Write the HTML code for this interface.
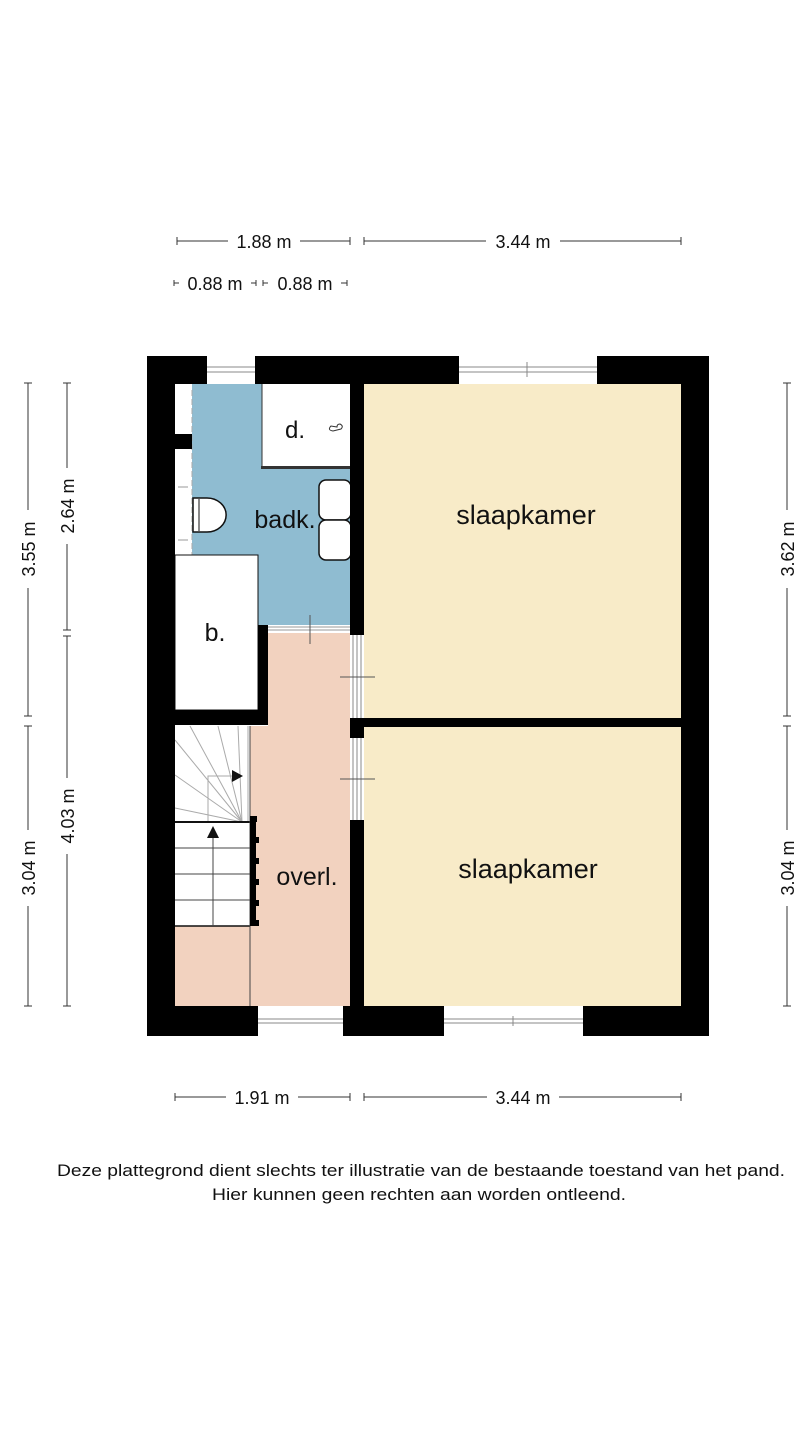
<!DOCTYPE html>
<html><head><meta charset="utf-8"><style>
html,body{margin:0;padding:0;background:#fff;}
svg{display:block;}
text{font-family:"Liberation Sans",sans-serif;fill:#111;}
</style></head><body>
<svg width="810" height="1440" viewBox="0 0 810 1440" xmlns="http://www.w3.org/2000/svg">
<rect x="364" y="384" width="317" height="334" fill="#f8ebc8"/>
<rect x="364" y="726" width="317" height="280" fill="#f8ebc8"/>
<rect x="192" y="384" width="158" height="241" fill="#8fbcd1"/>
<rect x="268" y="625" width="82" height="381" fill="#f2d2bf"/>
<rect x="250" y="726" width="20" height="280" fill="#f2d2bf"/>
<rect x="175" y="926" width="93" height="80" fill="#f2d2bf"/>
<rect x="175" y="384" width="17" height="171" fill="#fff"/>
<line x1="192" y1="390" x2="192" y2="555" stroke="#aaa" stroke-width="1" stroke-dasharray="6,3"/>
<rect x="175" y="434" width="17" height="15" fill="#000"/>
<line x1="178" y1="487" x2="188" y2="487" stroke="#999"/>
<line x1="178" y1="540" x2="188" y2="540" stroke="#999"/>
<rect x="262" y="384" width="88" height="83" fill="#fff"/>
<line x1="262" y1="384" x2="262" y2="467" stroke="#333" stroke-width="1"/>
<rect x="261" y="466" width="89" height="3" fill="#333"/>
<text x="295" y="438" font-size="24" text-anchor="middle">d.</text>
<path d="M331 426 q-4 4 2 5 l8 -2 q3 -3 -1 -5 q-3 0 -3 3z" fill="none" stroke="#333" stroke-width="1"/>
<rect x="319" y="480" width="32" height="40" rx="7" fill="#fff" stroke="#111" stroke-width="1.5"/>
<rect x="319" y="520" width="32" height="40" rx="7" fill="#fff" stroke="#111" stroke-width="1.5"/>
<path d="M193 498 h14 a18 16 0 0 1 0 34 h-14 z" fill="#fff" stroke="#111" stroke-width="1.5"/>
<line x1="199" y1="499" x2="199" y2="531" stroke="#111"/>
<text x="285" y="528" font-size="25" text-anchor="middle">badk.</text>
<rect x="175" y="555" width="83" height="155" fill="#fff" stroke="#111" stroke-width="1"/>
<text x="215" y="641" font-size="25" text-anchor="middle">b.</text>
<rect x="258" y="625" width="10" height="100" fill="#000"/>
<rect x="175" y="710" width="93" height="15" fill="#000"/>
<rect x="268" y="625" width="82" height="8" fill="#fff"/>
<line x1="268" y1="627" x2="350" y2="627" stroke="#999"/>
<line x1="268" y1="630" x2="350" y2="630" stroke="#999"/>
<line x1="310" y1="615" x2="310" y2="644" stroke="#555"/>
<rect x="175" y="726" width="75" height="200" fill="#fff"/>
<g stroke="#aaa" stroke-width="1">
<line x1="242" y1="822" x2="175" y2="740"/><line x1="242" y1="822" x2="175" y2="775"/>
<line x1="242" y1="822" x2="175" y2="808"/><line x1="242" y1="822" x2="190" y2="726"/>
<line x1="242" y1="822" x2="218" y2="726"/><line x1="242" y1="822" x2="238" y2="726"/>
<line x1="248" y1="726" x2="248" y2="822"/>
<polyline points="208,822 208,776 232,776" fill="none"/>
</g>
<polygon points="232,770 243,776 232,782" fill="#111"/>
<g stroke="#444" stroke-width="1">
<line x1="175" y1="822" x2="250" y2="822" stroke="#111" stroke-width="2"/>
<line x1="175" y1="848" x2="250" y2="848"/><line x1="175" y1="874" x2="250" y2="874"/>
<line x1="175" y1="900" x2="250" y2="900"/><line x1="175" y1="926" x2="250" y2="926" stroke="#111" stroke-width="1.5"/>
<line x1="213" y1="838" x2="213" y2="926"/>
<line x1="250" y1="726" x2="250" y2="1006"/>
</g>
<polygon points="207,838 213,826 219,838" fill="#111"/>
<g fill="#000">
<rect x="250" y="816" width="7" height="6"/><rect x="250" y="837" width="9" height="6"/>
<rect x="250" y="858" width="9" height="6"/><rect x="250" y="879" width="9" height="6"/>
<rect x="250" y="900" width="9" height="6"/><rect x="250" y="920" width="9" height="6"/>
<rect x="250" y="820" width="6" height="106"/>
</g>
<text x="307" y="885" font-size="25" text-anchor="middle">overl.</text>
<rect x="350" y="384" width="14" height="251" fill="#000"/>
<rect x="350" y="718" width="14" height="20" fill="#000"/>
<rect x="350" y="718" width="331" height="9" fill="#000"/>
<rect x="350" y="820" width="14" height="186" fill="#000"/>
<g stroke="#888" stroke-width="1">
<line x1="353" y1="635" x2="353" y2="718"/><line x1="357" y1="635" x2="357" y2="718"/><line x1="361" y1="635" x2="361" y2="718"/>
<line x1="353" y1="738" x2="353" y2="820"/><line x1="357" y1="738" x2="357" y2="820"/><line x1="361" y1="738" x2="361" y2="820"/>
<line x1="340" y1="677" x2="375" y2="677" stroke="#555"/><line x1="340" y1="779" x2="375" y2="779" stroke="#555"/>
</g>
<text x="526" y="524" font-size="27" text-anchor="middle">slaapkamer</text>
<text x="528" y="878" font-size="27" text-anchor="middle">slaapkamer</text>
<g fill="#000">
<rect x="147" y="356" width="28" height="680"/>
<rect x="681" y="356" width="28" height="680"/>
<rect x="147" y="356" width="60" height="28"/>
<rect x="255" y="356" width="204" height="28"/>
<rect x="597" y="356" width="112" height="28"/>
<rect x="147" y="1006" width="111" height="30"/>
<rect x="343" y="1006" width="101" height="30"/>
<rect x="583" y="1006" width="126" height="30"/>
</g>
<g stroke="#888" stroke-width="1" fill="none">
<line x1="207" y1="367" x2="255" y2="367"/><line x1="207" y1="372" x2="255" y2="372"/>
<line x1="459" y1="367" x2="597" y2="367"/><line x1="459" y1="372" x2="597" y2="372"/>
<line x1="258" y1="1019" x2="343" y2="1019"/><line x1="258" y1="1023" x2="343" y2="1023"/>
<line x1="444" y1="1019" x2="583" y2="1019"/><line x1="444" y1="1023" x2="583" y2="1023"/>
<line x1="513" y1="1016" x2="513" y2="1026"/><line x1="527" y1="362" x2="527" y2="377"/>
</g>
<g stroke="#333" stroke-width="1">
<line x1="177" y1="241" x2="228" y2="241"/><line x1="300" y1="241" x2="350" y2="241"/>
<line x1="177" y1="237" x2="177" y2="245"/><line x1="350" y1="237" x2="350" y2="245"/>
<line x1="364" y1="241" x2="486" y2="241"/><line x1="560" y1="241" x2="681" y2="241"/>
<line x1="364" y1="237" x2="364" y2="245"/><line x1="681" y1="237" x2="681" y2="245"/>
<line x1="175" y1="1097" x2="226" y2="1097"/><line x1="298" y1="1097" x2="350" y2="1097"/>
<line x1="175" y1="1093" x2="175" y2="1101"/><line x1="350" y1="1093" x2="350" y2="1101"/>
<line x1="364" y1="1097" x2="487" y2="1097"/><line x1="559" y1="1097" x2="681" y2="1097"/>
<line x1="364" y1="1093" x2="364" y2="1101"/><line x1="681" y1="1093" x2="681" y2="1101"/>
<line x1="174" y1="283" x2="179" y2="283"/><line x1="174" y1="280" x2="174" y2="286"/>
<line x1="251" y1="283" x2="256" y2="283"/><line x1="256" y1="280" x2="256" y2="286"/>
<line x1="263" y1="283" x2="268" y2="283"/><line x1="263" y1="280" x2="263" y2="286"/>
<line x1="341" y1="283" x2="347" y2="283"/><line x1="347" y1="280" x2="347" y2="286"/>
<line x1="28" y1="383" x2="28" y2="510"/><line x1="28" y1="588" x2="28" y2="716"/>
<line x1="24" y1="383" x2="32" y2="383"/><line x1="24" y1="716" x2="32" y2="716"/>
<line x1="28" y1="726" x2="28" y2="830"/><line x1="28" y1="906" x2="28" y2="1006"/>
<line x1="24" y1="726" x2="32" y2="726"/><line x1="24" y1="1006" x2="32" y2="1006"/>
<line x1="67" y1="383" x2="67" y2="468"/><line x1="67" y1="544" x2="67" y2="630"/>
<line x1="63" y1="383" x2="71" y2="383"/><line x1="63" y1="630" x2="71" y2="630"/>
<line x1="67" y1="636" x2="67" y2="778"/><line x1="67" y1="854" x2="67" y2="1006"/>
<line x1="63" y1="636" x2="71" y2="636"/><line x1="63" y1="1006" x2="71" y2="1006"/>
<line x1="787" y1="383" x2="787" y2="510"/><line x1="787" y1="588" x2="787" y2="716"/>
<line x1="783" y1="383" x2="791" y2="383"/><line x1="783" y1="716" x2="791" y2="716"/>
<line x1="787" y1="726" x2="787" y2="830"/><line x1="787" y1="906" x2="787" y2="1006"/>
<line x1="783" y1="726" x2="791" y2="726"/><line x1="783" y1="1006" x2="791" y2="1006"/>
</g>
<g font-size="18" text-anchor="middle">
<text x="264" y="248">1.88 m</text>
<text x="523" y="248">3.44 m</text>
<text x="215" y="290">0.88 m</text>
<text x="305" y="290">0.88 m</text>
<text x="262" y="1104">1.91 m</text>
<text x="523" y="1104">3.44 m</text>
<text transform="translate(35,549) rotate(-90)">3.55 m</text>
<text transform="translate(35,868) rotate(-90)">3.04 m</text>
<text transform="translate(74,506) rotate(-90)">2.64 m</text>
<text transform="translate(74,816) rotate(-90)">4.03 m</text>
<text transform="translate(794,549) rotate(-90)">3.62 m</text>
<text transform="translate(794,868) rotate(-90)">3.04 m</text>
</g>
<g font-size="17" text-anchor="middle">
<text x="421" y="1176" textLength="728" lengthAdjust="spacingAndGlyphs">Deze plattegrond dient slechts ter illustratie van de bestaande toestand van het pand.</text>
<text x="419" y="1200" textLength="414" lengthAdjust="spacingAndGlyphs">Hier kunnen geen rechten aan worden ontleend.</text>
</g>
</svg>
</body></html>
